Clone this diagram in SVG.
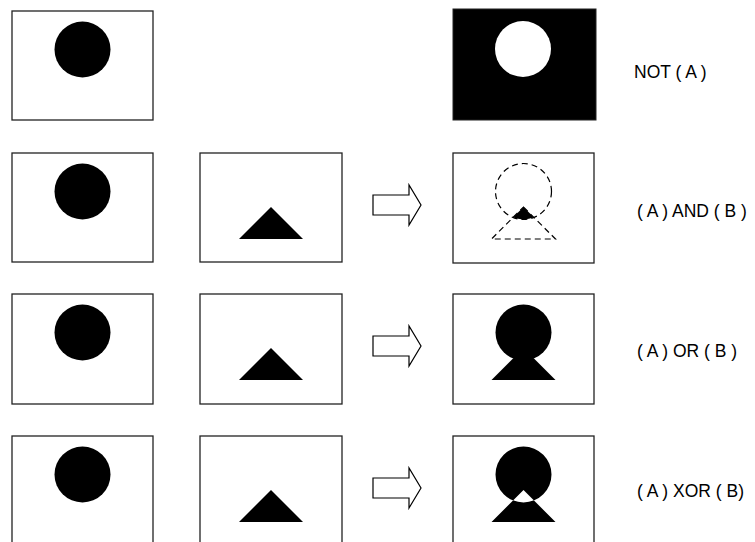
<svg xmlns="http://www.w3.org/2000/svg" width="755" height="542" viewBox="0 0 755 542">
<style>
.box{fill:#fff;stroke:#222;stroke-width:1.3}
.blk{fill:#000}
.dash{fill:none;stroke:#000;stroke-width:1.2;stroke-dasharray:6,4}
.arrow{fill:#fff;stroke:#000;stroke-width:1.2;stroke-linejoin:miter}
.lbl{font-family:"Liberation Sans",Arial,sans-serif;font-size:17.5px;fill:#000}
</style>
<defs>
<clipPath id="andClip"><circle cx="523.5" cy="191.5" r="28"/></clipPath>
</defs>
<rect width="755" height="542" fill="#fff"/>

<g id="row1-A">
<rect class="box" x="12" y="11" width="141" height="109"/>
<circle class="blk" cx="82.5" cy="49.5" r="28"/>
</g>
<g id="row1-NOT">
<rect x="453" y="9" width="143" height="111" fill="#000" stroke="#222" stroke-width="1"/>
<circle cx="523" cy="49" r="28" fill="#fff"/>
</g>
<g id="label-NOT"><text class="lbl" x="634" y="78">NOT ( A )</text></g>

<g id="row2-A">
<rect class="box" x="12" y="153" width="141" height="109"/>
<circle class="blk" cx="82.5" cy="191.5" r="28"/>
</g>
<g id="row2-B">
<rect class="box" x="200" y="153" width="142" height="109"/>
<polygon class="blk" points="271,207 303,239 239,239"/>
</g>
<g id="row2-AND">
<rect class="box" x="453" y="153" width="141" height="110"/>
<polygon class="blk" points="523.5,207 555.5,239 491.5,239" clip-path="url(#andClip)"/>
<circle class="dash" cx="523.5" cy="191.5" r="28"/>
<polygon class="dash" points="523.5,207 555.5,239 491.5,239"/>
</g>
<g id="label-AND"><text class="lbl" x="637" y="217">( A ) AND ( B )</text></g>

<g id="row3-A">
<rect class="box" x="12" y="294" width="141" height="110"/>
<circle class="blk" cx="82.5" cy="332.5" r="28"/>
</g>
<g id="row3-B">
<rect class="box" x="200" y="294" width="142" height="110"/>
<polygon class="blk" points="271,348 303,380 239,380"/>
</g>
<g id="row3-OR">
<rect class="box" x="453" y="294" width="141" height="110"/>
<circle class="blk" cx="523.5" cy="332.5" r="28"/>
<polygon class="blk" points="523.5,348 555.5,380 491.5,380"/>
</g>
<g id="label-OR"><text class="lbl" x="637" y="357">( A ) OR ( B )</text></g>

<g id="row4-A">
<rect class="box" x="12" y="436" width="141" height="110"/>
<circle class="blk" cx="82.5" cy="474.5" r="28"/>
</g>
<g id="row4-B">
<rect class="box" x="200" y="436" width="142" height="110"/>
<polygon class="blk" points="271,490 303,522 239,522"/>
</g>
<g id="row4-XOR">
<rect class="box" x="453" y="436" width="141" height="110"/>
<path class="blk" fill-rule="evenodd" d="M495.5,474.5 a28,28 0 1,0 56,0 a28,28 0 1,0 -56,0 Z M523.5,490 L555.5,522 L491.5,522 Z"/>
</g>
<g id="label-XOR"><text class="lbl" x="637" y="497">( A ) XOR ( B)</text></g>

<g id="connectors">
<path class="arrow" d="M373,195 H409 V185 L421,205 L409,225 V215 H373 Z"/>
<path class="arrow" d="M373,336 H409 V326 L421,346 L409,366 V356 H373 Z"/>
<path class="arrow" d="M373,478 H409 V468 L421,488 L409,508 V498 H373 Z"/>
</g>
</svg>
